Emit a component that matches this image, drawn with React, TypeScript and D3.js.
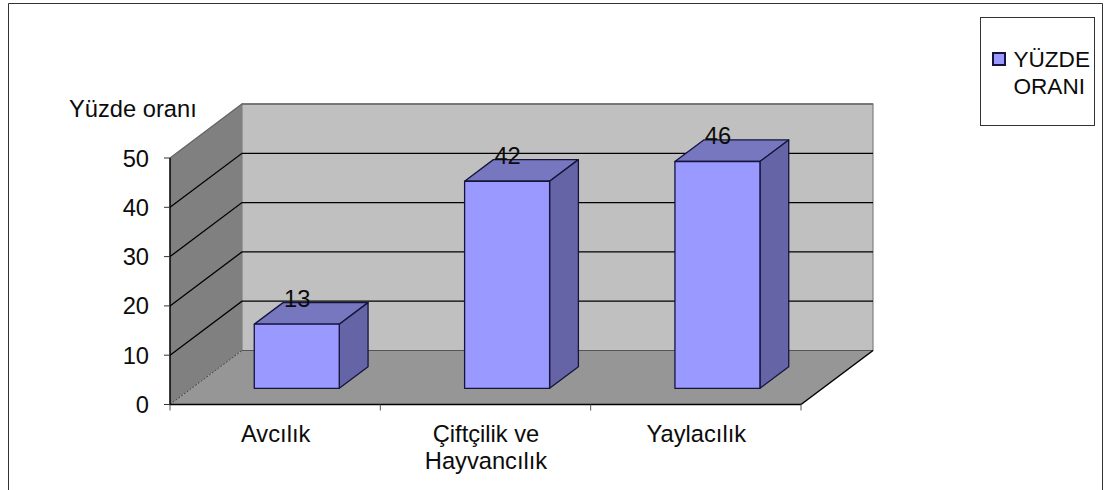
import React from "react";
import * as d3 from "d3";

const categories = ["Avcılık", "Çiftçilik ve|Hayvancılık", "Yaylacılık"];
const values = [13, 42, 46];
const yTicks = [0, 10, 20, 30, 40, 50];
const legendLines = ["YÜZDE", "ORANI"];
const yTitle = "Yüzde oranı";

const W = 1105, H = 490;
const x0 = 170, x1 = 801, yBase = 404.5, yTop = 158;
const depthX = 72, depthY = -54;
const barD0 = 0.3, barD1 = 0.7;
const barWidth = 85;
const FS = 23.7;

const F = "'Liberation Sans', Arial, sans-serif";
const ink = "#0c0c0c";

const x = d3.scaleBand<string>().domain(categories).range([x0, x1]);
const y = d3.scaleLinear().domain([0, 50]).range([yBase, yTop]);
const poly = (pts: [number, number][]) => d3.line()(pts)! + "Z";

export default function App() {
  const bx = x0 + depthX, by = depthY;
  return (
    <svg width={W} height={H} viewBox={`0 0 ${W} ${H}`}
      style={{ position: "absolute", left: 0, top: 0, background: "#fff" }} fontFamily={F}>
      <path d={`M8.5 ${H}V3.5H1102.5V${H}`} fill="none" stroke="#333" strokeWidth={1} />

      {/* walls and floor */}
      <path d={poly([[x0, yTop], [bx, yTop + by], [bx, yBase + by], [x0, yBase]])} fill="#808080" />
      <path d={poly([[bx, yTop + by], [x1 + depthX, yTop + by], [x1 + depthX, yBase + by], [bx, yBase + by]])}
        fill="#c0c0c0" stroke="#808080" strokeWidth={1.2} />
      <path d={poly([[x0, yBase], [bx, yBase + by], [x1 + depthX, yBase + by], [x1, yBase]])} fill="#969696" />

      {/* gridlines */}
      {yTicks.slice(1).map((t) => (
        <path key={t} d={`M${x0} ${y(t)}L${bx} ${y(t) + by}H${x1 + depthX}`}
          fill="none" stroke={t === 50 ? "#666" : "#000"} strokeWidth={t === 50 ? 1.3 : 1.3} />
      ))}
      <path d={`M${x0} ${yBase}L${bx} ${yBase + by}`} fill="none" stroke="#222" strokeWidth={0.8} strokeDasharray="2 1.5" />
      <path d={`M${bx} ${yBase + by}H${x1 + depthX}`} stroke="#555" strokeWidth={1} fill="none" />
      <path d={`M${x1} ${yBase}L${x1 + depthX} ${yBase + by}`} stroke="#000" strokeWidth={1.5} fill="none" />

      {/* axes */}
      <path d={`M${x0} ${yTop}V${yBase}H${x1}`} fill="none" stroke="#000" strokeWidth={1.5} />
      {yTicks.map((t) => (
        <g key={t}>
          <line x1={x0 - 6} x2={x0} y1={y(t)} y2={y(t)} stroke="#333" />
          <text x={x0 - 21} y={y(t) + 8.5} fontSize={FS} textAnchor="end" fill={ink}>{t}</text>
        </g>
      ))}
      {[...categories.map((c) => x(c)!), x1].map((tx) => (
        <line key={tx} x1={tx} x2={tx} y1={yBase} y2={yBase + 6} stroke="#555" />
      ))}
      <text x={69} y={117} fontSize={FS} fill={ink}>{yTitle}</text>

      {/* bars */}
      {categories.map((c, i) => {
        const cx = x(c)! + x.bandwidth() / 2;
        const l = cx - barWidth / 2 + depthX * barD0;
        const r = l + barWidth;
        const bot = yBase + depthY * barD0;
        const top = y(values[i]) + depthY * barD0;
        const dx = depthX * (barD1 - barD0), dy = depthY * (barD1 - barD0);
        return (
          <g key={c} stroke="#14143c" strokeWidth={1.3} strokeLinejoin="round">
            <path d={poly([[l, top], [l + dx, top + dy], [r + dx, top + dy], [r, top]])} fill="#7777c0" />
            <path d={poly([[r, top], [r + dx, top + dy], [r + dx, bot + dy], [r, bot]])} fill="#6464a6" />
            <rect x={l} y={top} width={barWidth} height={bot - top} fill="#9999ff" />
            <text x={l + 43} y={top - 17.5} fontSize={FS} textAnchor="middle" fill={ink} stroke="none">{values[i]}</text>
          </g>
        );
      })}

      {/* category labels */}
      {categories.map((c) => (
        <text key={c} y={441.5} fontSize={FS} textAnchor="middle" fill={ink}>
          {c.split("|").map((s, j) => (
            <tspan key={j} x={x(c)! + x.bandwidth() / 2 + 0.5} dy={j ? 27.5 : 0}>{s}</tspan>
          ))}
        </text>
      ))}

      {/* legend */}
      <rect x={980.5} y={17.5} width={114} height={108} fill="#fff" stroke="#333" />
      <rect x={993} y={53} width={12} height={12} fill="#9999ff" stroke="#14143c" strokeWidth={2} />
      <text x={1090} y={67} fontSize={22.6} textAnchor="end" fill={ink}>{legendLines[0]}</text>
      <text x={1085} y={94} fontSize={22.6} textAnchor="end" fill={ink}>{legendLines[1]}</text>
    </svg>
  );
}
